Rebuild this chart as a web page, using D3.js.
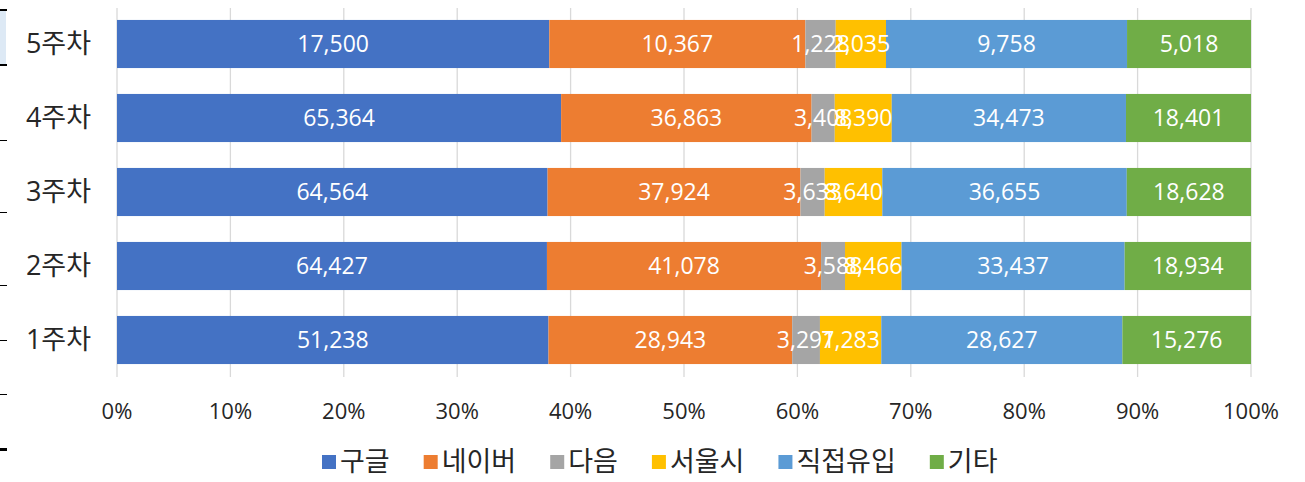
<!DOCTYPE html>
<html>
<head>
    <meta charset="utf-8">
    <script src="https://d3js.org/d3.v7.min.js"></script>
    <style>
        body { margin: 0; background: #fff; }
    </style>
</head>
<body>
    <div id="chart"></div>
    <script>
        // weeks, top to bottom
        var weeks = ["5주차", "4주차", "3주차", "2주차", "1주차"];
        var series = ["구글", "네이버", "다음", "서울시", "직접유입", "기타"];
        var colors = ["#4472c4", "#ed7d31", "#a5a5a5", "#ffc000", "#5b9bd5", "#70ad47"];

        // values per series, same order as weeks
        var google = [17500, 65364, 64564, 64427, 51238];
        var naver = [10367, 36863, 37924, 41078, 28943];
        var daum = [1228, 3408, 3633, 3588, 3291];
        var seoul = [2035, 8390, 8640, 8466, 7283];
        var direct = [9758, 34473, 36655, 33437, 28627];
        var etc = [5018, 18401, 18628, 18934, 15276];
        var values = [google, naver, daum, seoul, direct, etc];

        var xTicks = [0, 0.1, 0.2, 0.3, 0.4, 0.5, 0.6, 0.7, 0.8, 0.9, 1];

        var width = 1305, height = 482;
        var svg = d3.select("#chart").append("svg")
            .attr("width", width)
            .attr("height", height);

        var font = "'Open Sans', 'Noto Sans CJK KR', sans-serif";

        // leftover spreadsheet bits on the left edge
        svg.append("rect").attr("x", 0).attr("y", 10).attr("width", 6).attr("height", 55).attr("fill", "#dde9f5");
        svg.append("rect").attr("x", 0).attr("y", 9).attr("width", 7).attr("height", 2).attr("fill", "#000");
        svg.append("rect").attr("x", 0).attr("y", 64).attr("width", 7).attr("height", 2).attr("fill", "#000");
        [140, 212, 285, 340, 394].forEach(function (y) {
            svg.append("rect").attr("x", 0).attr("y", y).attr("width", 7).attr("height", 1).attr("fill", "#000");
        });
        svg.append("rect").attr("x", 0).attr("y", 448).attr("width", 7).attr("height", 3).attr("fill", "#000");

        var x = d3.scaleLinear().domain([0, 1]).range([117, 1251]);
        var y = d3.scaleBand().domain(weeks).range([7, 377]).paddingInner(0.35).paddingOuter(0.175);

        // gridlines
        svg.append("g").selectAll("line")
            .data(xTicks)
            .join("line")
            .attr("x1", d => x(d)).attr("x2", d => x(d))
            .attr("y1", 8).attr("y2", 377)
            .attr("stroke", "#d9d9d9")
            .attr("stroke-width", 1.3);

        // stacked rows
        var rows = weeks.map(function (w, i) {
            var total = d3.sum(values, s => s[i]);
            var acc = 0;
            return values.map(function (s, k) {
                var seg = { week: w, key: k, value: s[i], x0: acc / total };
                acc += s[i];
                seg.x1 = acc / total;
                return seg;
            });
        });
        var segs = rows.flat();

        svg.append("g").selectAll("rect")
            .data(segs)
            .join("rect")
            .attr("x", d => x(d.x0))
            .attr("width", d => x(d.x1) - x(d.x0))
            .attr("y", d => y(d.week))
            .attr("height", y.bandwidth())
            .attr("fill", d => colors[d.key]);

        svg.append("g").selectAll("text")
            .data(segs)
            .join("text")
            .attr("x", d => (x(d.x0) + x(d.x1)) / 2)
            .attr("y", d => y(d.week) + y.bandwidth() / 2)
            .attr("dy", "0.35em")
            .attr("text-anchor", "middle")
            .attr("fill", "#fff")
            .style("font-family", font)
            .style("font-size", "23px")
            .text(d => d3.format(",")(d.value));

        // y labels
        svg.append("g").selectAll("text")
            .data(weeks)
            .join("text")
            .attr("x", 91)
            .attr("y", d => y(d) + y.bandwidth() / 2)
            .attr("dy", "0.35em")
            .attr("text-anchor", "end")
            .attr("fill", "#262626")
            .style("font-family", font)
            .style("font-size", "27px")
            .text(d => d);

        // x tick labels
        svg.append("g").selectAll("text")
            .data(xTicks)
            .join("text")
            .attr("x", d => x(d))
            .attr("y", 411)
            .attr("dy", "0.35em")
            .attr("text-anchor", "middle")
            .attr("fill", "#262626")
            .style("font-family", font)
            .style("font-size", "22px")
            .text(d => d3.format(".0%")(d));

        // legend
        var legend = svg.append("g");
        var lx = 322;
        series.forEach(function (name, k) {
            legend.append("rect")
                .attr("x", lx).attr("y", 455)
                .attr("width", 14).attr("height", 14)
                .attr("fill", colors[k]);
            var t = legend.append("text")
                .attr("x", lx + 18).attr("y", 462)
                .attr("dy", "0.35em")
                .attr("fill", "#262626")
                .style("font-family", font)
                .style("font-size", "27px")
                .text(name);
            lx += 18 + t.node().getComputedTextLength() + 34;
        });
    </script>
</body>
</html>
